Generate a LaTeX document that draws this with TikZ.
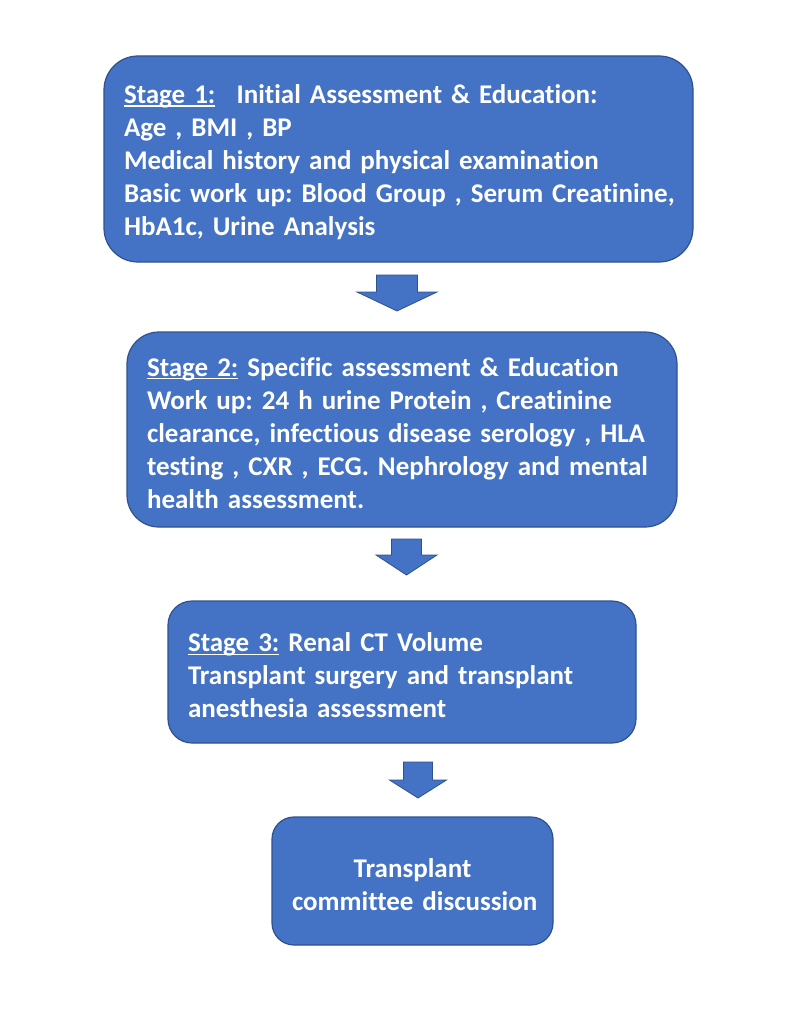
\documentclass[tikz,border=0pt]{standalone}
\usepackage{fontspec}
\setmainfont{Carlito}[Ligatures=NoCommon]
\frenchspacing
\newcommand{\stgul}[1]{\setbox0\hbox{#1}\rlap{\rule[-3pt]{\wd0}{1.4pt}}\box0\relax}
\newcommand{\topstrut}{\rule{0pt}{26pt}}
\definecolor{boxfill}{HTML}{4472C4}
\definecolor{boxline}{HTML}{2F528F}
\tikzset{
  stagebox/.style={draw=boxline, fill=boxfill, line width=1.2pt, text=white,
    font=\fontsize{27}{33}\selectfont\bfseries\frenchspacing, inner xsep=20pt, inner ysep=0pt,
    align=left, anchor=center},
  blockarrow/.style={draw=boxline, fill=boxfill, line width=0.8pt, line join=miter}
}
\newcommand{\blkarrow}[7]{%
  % name, cx, shaft width, head width, top, head y, tip y
  \draw[blockarrow] (#2-#3/2,#5) coordinate (#1top) -- (#2+#3/2,#5) -- (#2+#3/2,#6) -- (#2+#4/2,#6)
     -- (#2,#7) coordinate (#1tip) -- (#2-#4/2,#6) -- (#2-#3/2,#6) -- cycle;}
\begin{document}
\begin{tikzpicture}[x=1pt,y=-1pt]
\useasboundingbox (0,0) rectangle (800,1035);
\fill[white] (0,0) rectangle (800,1035);

\node[stagebox, minimum width=589pt, minimum height=206pt, text width=549pt,
      rounded corners=34pt] (s1) at (398.5,159)
  {\topstrut\stgul{Stage 1:}\hspace{0.45em} Initial Assessment \& Education:\\
   Age , BMI , BP\\
   Medical history and physical examination\\
   \mbox{Basic work up: Blood Group , Serum Creatinine,}\\
   HbA1c, Urine Analysis};

\node[stagebox, minimum width=550pt, minimum height=195pt, text width=510pt,
      rounded corners=32pt] (s2) at (402,429.5)
  {\topstrut\stgul{Stage 2:} Specific assessment \& Education\\
   \mbox{Work up: 24 h urine Protein , Creatinine}\\
   \mbox{clearance, infectious disease serology , HLA}\\
   \mbox{testing , CXR , ECG. Nephrology and mental}\\
   health assessment.};

\node[stagebox, minimum width=468pt, minimum height=142pt, text width=428pt,
      rounded corners=24pt] (s3) at (402,672)
  {\topstrut\stgul{Stage 3:} Renal CT Volume\\
   \mbox{Transplant surgery and transplant}\\
   anesthesia assessment};

\node[stagebox, minimum width=281pt, minimum height=128pt, text width=241pt,
      rounded corners=22pt, align=center] (s4) at (412.5,881)
  {\topstrut Transplant\\ \mbox{committee discussion}};

\blkarrow{a1}{397}{41}{80}{275}{292}{311}
\blkarrow{a2}{406.5}{30}{61}{539}{555}{575}
\blkarrow{a3}{418}{29}{57}{762}{780}{798}
\end{tikzpicture}
\end{document}
